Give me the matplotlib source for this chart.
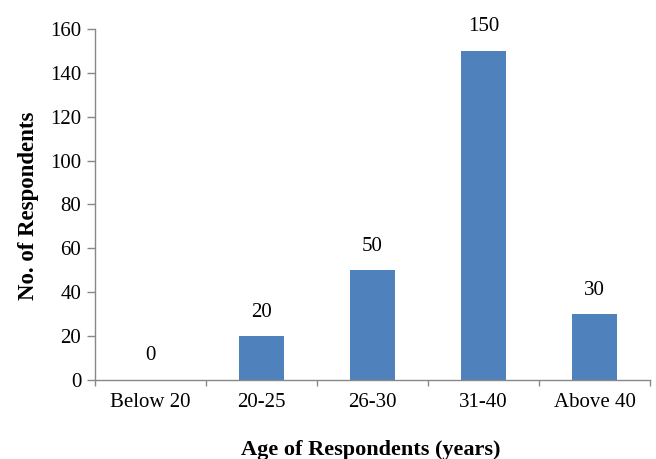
import matplotlib.pyplot as plt
import numpy as np

# age groups and number of respondents in each
age_groups = ['Below 20', '20-25', '26-30', '31-40', 'Above 40']
respondents = [0, 20, 50, 150, 30]

plt.rcParams['font.family'] = ['Liberation Serif', 'DejaVu Serif']

fig = plt.figure(figsize=(6.56, 4.59), dpi=100)
ax = fig.add_axes([0.145, 0.172, 0.846, 0.765])

x = np.arange(len(age_groups))
bars = ax.bar(x, respondents, width=0.4, color='#4F81BD')

# value labels above each bar
for xi, v in zip(x, respondents):
    ax.text(xi, v + 11, str(v), ha='center', va='center', fontsize=15)

ax.set_xlim(-0.5, len(age_groups) - 0.5)
ax.set_ylim(0, 160)
ax.set_yticks(range(0, 161, 20))

# category labels centred, tick marks between the categories
ax.set_xticks(x)
ax.set_xticklabels(age_groups, fontsize=15)
ax.set_xticks(np.arange(-0.5, len(age_groups)), minor=True)
ax.tick_params(axis='x', which='major', length=0, pad=9)
ax.tick_params(axis='x', which='minor', length=4, color='#888888', width=1)
ax.tick_params(axis='y', length=6, color='#888888', width=1, labelsize=15, pad=4)

for side in ['top', 'right']:
    ax.spines[side].set_visible(False)
for side in ['left', 'bottom']:
    ax.spines[side].set_color('#888888')
    ax.spines[side].set_linewidth(1)

ax.set_xlabel('Age of Respondents (years)', fontsize=16, fontweight='bold')
ax.set_ylabel('No. of Respondents', fontsize=16.5, fontweight='bold')
ax.xaxis.set_label_coords(0.497, -0.172)
ax.yaxis.set_label_coords(-0.102, 0.496)

fig.savefig('out.png', dpi=100)
